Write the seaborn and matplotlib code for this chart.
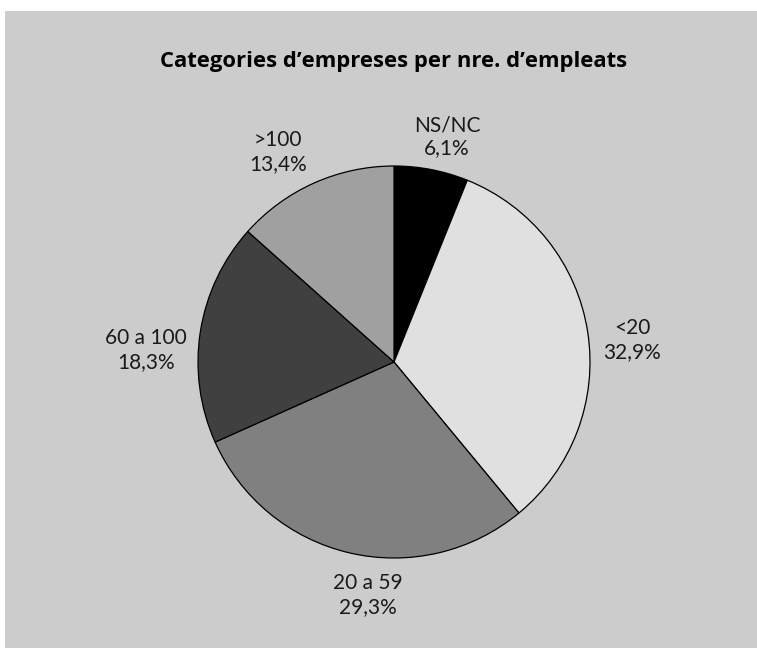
import matplotlib
matplotlib.use("Agg")
import matplotlib.pyplot as plt
import seaborn as sns
from matplotlib.patches import Rectangle

# data (clockwise from 12 o'clock)
categories = ["NS/NC", "<20", "20 a 59", "60 a 100", ">100"]
shares = [6.1, 32.9, 29.3, 18.3, 13.4]

# label anchors in pie units (radius = 1)
label_x = [0.270, 1.214, -0.133, -1.265, -0.592]
label_y = [1.148, 0.112, -1.189, 0.061, 1.071]

colors = ["#000000", "#e0e0e0", "#808080", "#404040", "#a0a0a0"]

sns.set_style("white")
plt.rcParams["font.family"] = ["Lato", "DejaVu Sans"]

W, H = 757, 648
fig = plt.figure(figsize=(W / 100, H / 100), dpi=100, facecolor="white")

# grey panel behind everything (small white margin top / left)
fig.patches.append(Rectangle((5 / W, 0), 1, 1 - 11 / H, transform=fig.transFigure,
                             facecolor="#cccccc", edgecolor="none", zorder=-5))

cx, cy, r = 394, 362, 196
ax = fig.add_axes([(cx - r) / W, (H - cy - r) / H, 2 * r / W, 2 * r / H])
ax.set_facecolor("none")

ax.pie(shares, colors=colors, startangle=90, counterclock=False,
       wedgeprops=dict(edgecolor="black", linewidth=0.9))
ax.set_xlim(-1, 1)
ax.set_ylim(-1, 1)
ax.set_aspect("equal")
ax.axis("off")

for name, val, x, y in zip(categories, shares, label_x, label_y):
    txt = f"{name}\n{val:.1f}%".replace(".", ",")
    ax.text(x, y, txt, ha="center", va="center", multialignment="center",
            fontsize=15, color="#1a1a1a", clip_on=False)

fig.text(394 / W, 1 - 62 / H, "Categories d\u2019empreses per nre. d\u2019empleats",
         ha="center", va="center", fontsize=15.8, fontweight="bold", color="black",
         family=["Open Sans", "DejaVu Sans"])

fig.savefig("out.png", dpi=100, facecolor=fig.get_facecolor())
